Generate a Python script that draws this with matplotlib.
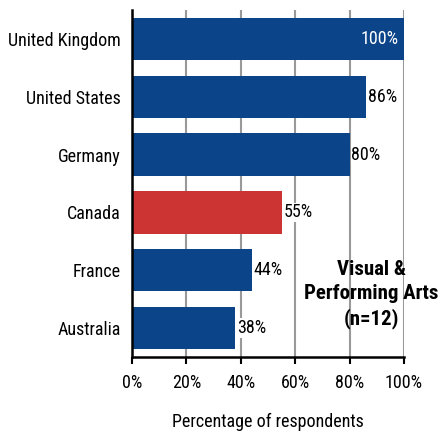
import matplotlib
matplotlib.use("Agg")
import matplotlib.pyplot as plt
from matplotlib.patches import Rectangle

countries = ["United Kingdom", "United States", "Germany", "Canada", "France", "Australia"]
values = [100, 86, 80, 55, 44, 38]
colors = ["#0b4488", "#0b4488", "#0b4488", "#cc3333", "#0b4488", "#0b4488"]
xticks = [0, 20, 40, 60, 80, 100]
xticklabels = ["0%", "20%", "40%", "60%", "80%", "100%"]

plt.rcParams['font.family'] = ['Roboto Condensed', 'Roboto', 'DejaVu Sans']

fig = plt.figure(figsize=(4.44, 4.33), dpi=100)
ax = fig.add_axes([0.297, 0.1755, 0.613, 0.8015])

FS = 13
y = list(range(len(countries)))
ax.barh(y, values, height=0.73, color=colors, zorder=3)
ax.set_ylim(len(countries) - 0.5, -0.5)
ax.set_xlim(0, 100)
ax.set_yticks(y)
ax.set_yticklabels(countries, fontsize=FS)
ax.set_xticks(xticks)
ax.set_xticklabels(xticklabels, fontsize=FS)
ax.tick_params(axis='y', length=0, pad=8)
ax.tick_params(axis='x', length=5, width=1.5, direction='out', pad=7)
ax.xaxis.grid(True, color="#999999", linewidth=1.5, zorder=0)
for s in ['top', 'right']:
    ax.spines[s].set_visible(False)
for s in ['left', 'bottom']:
    ax.spines[s].set_linewidth(1.8)
    ax.spines[s].set_color('black')
    ax.spines[s].set_zorder(4)

for i, v in enumerate(values):
    if v >= 95:
        ax.text(v - 2, i, f"{v}%", color="white", ha="right", va="center", fontsize=FS, zorder=5)
    else:
        ax.text(v + 0.6, i, f"{v}%", color="black", ha="left", va="center", fontsize=FS, zorder=5,
                bbox=dict(facecolor='white', edgecolor='none', pad=0.5))

# white panel behind the annotation (hides gridlines)
ax.add_patch(Rectangle((57, 3.7), 45, 1.63, facecolor='white', edgecolor='none',
                       zorder=1, clip_on=False))
ax.text(88, 4.42, "Visual &\nPerforming Arts\n(n=12)", ha="center", va="center",
        fontsize=15, fontweight="bold", linespacing=1.35, zorder=5)

ax.set_xlabel("Percentage of respondents", fontsize=FS, labelpad=15)

fig.savefig("out.png", dpi=100)
